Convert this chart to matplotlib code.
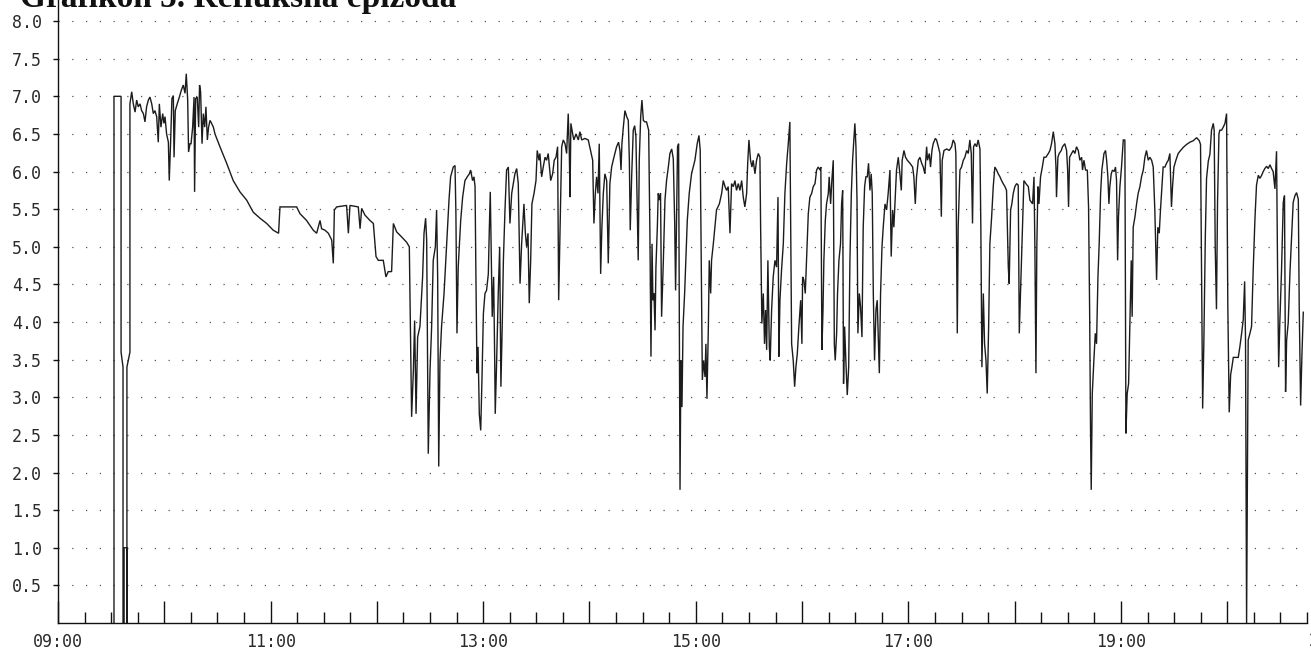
import matplotlib
matplotlib.use("Agg")
import matplotlib.pyplot as plt
import matplotlib.ticker as mticker
import numpy as np

# ---------------------------------------------------------------------------
# pH trace: minutes after 09:00 and pH
# ---------------------------------------------------------------------------

# 09:31 - 09:41  calibration / start artefact
t_start = [31.6, 31.6, 35.6, 35.6, 36.7, 36.7, 37.3, 37.3, 38.9, 38.9, 38.9, 40.6, 40.6]
ph_start = [0.0, 7.0, 7.0, 3.6, 3.4, 0.0, 0.0, 1.0, 1.0, 0.0, 3.4, 3.6, 6.9]

# 09:41 - 11:35
t_a = [41.6, 42.5, 43.5, 44.4, 45.3, 46.3, 47.2, 48.2, 49.1, 50.0, 51.0, 51.9, 52.9,
       53.8, 54.7, 55.7, 56.6, 57.2, 58.1, 59.1, 59.8, 60.4, 61.3, 62.3, 62.8, 63.6,
       64.3, 65.1, 65.5, 66.2, 67.3, 68.5, 69.6, 70.7, 71.7, 72.4, 73.2, 73.7, 74.5,
       75.1, 76.0, 76.8, 77.1, 77.7, 78.6, 79.4, 79.9, 80.5, 81.3, 82.0, 82.8, 83.5,
       84.3, 85.0, 85.8, 86.7, 87.7, 88.6, 91.4, 95.2, 98.9, 102.7, 106.5, 110.2,
       114.0, 117.8, 121.5, 124.5, 125.3, 134.7, 136.6, 140.3, 144.1, 146.0, 147.9,
       148.8, 150.7, 152.6, 154.5]
ph_a = [7.06, 6.90, 6.79, 6.95, 6.86, 6.90, 6.81, 6.77, 6.66, 6.86, 6.95, 6.99, 6.90,
        6.77, 6.81, 6.73, 6.39, 6.90, 6.59, 6.77, 6.64, 6.73, 6.50, 6.39, 5.88, 6.42,
        6.97, 7.01, 6.19, 6.81, 6.90, 6.99, 7.08, 7.15, 7.04, 7.30, 6.95, 6.26, 6.37,
        6.37, 6.59, 6.99, 5.73, 6.97, 6.99, 6.59, 7.15, 7.06, 6.37, 6.77, 6.59, 6.86,
        6.42, 6.59, 6.68, 6.64, 6.59, 6.50, 6.33, 6.11, 5.88, 5.73, 5.62, 5.46,
        5.38, 5.31, 5.22, 5.18, 5.53, 5.53, 5.44, 5.35, 5.22, 5.18, 5.35,
        5.24, 5.22, 5.18, 5.09]

# 11:35 - 13:43
t_b = [155.4, 156.0, 157.3, 162.9, 163.9, 164.8, 169.5, 170.5, 171.4, 173.3, 176.1,
       178.0, 179.5, 180.8, 183.6, 185.1, 186.4, 188.3, 189.3, 191.1, 194.0, 196.8,
       198.3, 199.6, 200.6, 201.3, 202.1, 203.0, 204.3, 205.8, 206.6, 207.5, 208.1,
       209.0, 210.0, 210.9, 211.8, 213.0, 213.7, 214.3, 214.9, 215.6, 216.5, 217.9,
       219.4, 220.7, 221.6, 223.1, 224.1, 224.6, 225.2, 225.9, 226.5, 227.3, 228.4,
       229.7, 231.0, 232.2, 232.9, 234.0, 234.8, 235.4, 235.9, 236.5, 237.1, 237.8,
       238.6, 239.3, 240.1, 241.0, 241.9, 242.9, 243.4, 244.0, 244.6, 245.1, 245.9,
       246.5, 246.8, 247.6, 248.5, 249.3, 250.0, 250.8, 251.4, 252.3, 253.2, 254.2,
       255.1, 256.1, 257.0, 257.9, 258.9, 259.8, 260.8, 261.7, 263.0, 263.8, 264.5,
       265.3, 266.0, 266.8, 267.5, 268.7, 269.8, 270.5, 271.5, 272.0, 273.0, 273.9,
       274.9, 275.8, 276.7, 278.1, 279.2, 280.1, 281.1, 282.0, 282.6]
ph_b = [4.78, 5.49, 5.53, 5.55, 5.18, 5.55, 5.53, 5.24, 5.51, 5.42, 5.35,
        5.31, 4.87, 4.82, 4.82, 4.60, 4.67, 4.67, 5.31, 5.20, 5.13, 5.06,
        5.00, 2.74, 3.36, 4.02, 2.78, 3.80, 3.94, 4.60, 5.18, 5.38, 5.09,
        2.25, 3.36, 3.94, 4.82, 5.00, 5.49, 4.60, 2.08, 3.49, 3.94, 4.38,
        5.04, 5.62, 5.93, 6.06, 6.08, 5.44, 3.85, 4.73, 5.00, 5.35, 5.66,
        5.88, 5.93, 5.97, 6.02, 5.88, 5.93, 5.80, 4.60, 3.32, 3.67, 2.78,
        2.56, 3.23, 4.11, 4.38, 4.42, 4.64, 5.18, 5.73, 4.82, 4.07, 4.60,
        3.49, 2.78, 3.49, 4.38, 5.00, 3.14, 4.02, 4.82, 5.49, 6.02, 6.06,
        5.31, 5.71, 5.84, 5.97, 6.04, 5.84, 4.51, 5.04, 5.57, 5.18, 5.00,
        5.18, 4.25, 4.82, 5.57, 5.71, 5.88, 6.28, 6.15, 6.24, 5.93, 6.06,
        6.19, 6.15, 6.24, 5.88, 5.97, 6.15, 6.19, 6.33, 4.29]

# 13:44 - 15:53
t_c = [284.3, 285.2, 286.2, 287.1, 288.0, 288.6, 289.0, 289.5, 290.5, 291.2, 292.4,
       293.7, 294.6, 295.6, 297.4, 299.3, 300.6, 301.8, 302.5, 303.3, 304.0, 304.8,
       305.5, 306.3, 307.0, 307.8, 308.7, 309.7, 310.6, 311.5, 312.5, 313.8, 315.3,
       316.4, 317.2, 317.8, 318.3, 319.1, 320.0, 321.0, 321.9, 322.5, 323.0, 323.8,
       324.7, 325.5, 326.2, 326.8, 327.5, 328.1, 328.9, 329.6, 330.4, 331.3, 332.2,
       333.4, 334.1, 334.7, 335.3, 335.8, 336.4, 337.0, 337.5, 338.3, 338.8, 339.4,
       340.1, 340.7, 341.7, 342.6, 343.5, 344.5, 345.4, 346.4, 347.3, 348.1, 348.6,
       349.2, 349.7, 350.3, 351.1, 351.6, 352.2, 352.8, 353.7, 354.4, 355.2, 356.3,
       357.6, 359.5, 360.8, 361.8, 362.5, 363.1, 363.7, 364.4, 365.2, 365.7, 366.3,
       367.1, 367.6, 368.4, 368.9, 369.9, 370.8, 371.7, 373.3, 374.6, 375.5, 376.5,
       377.4, 378.3, 379.3, 380.2, 381.2, 382.1, 383.0, 384.0, 384.9, 385.9, 386.8,
       387.7, 388.7, 389.3, 390.0, 390.9, 391.7, 392.4, 393.4, 394.3, 395.3, 396.2,
       396.6, 397.3, 398.1, 398.8, 399.4, 400.0, 400.7, 401.5, 402.0, 402.8, 403.7,
       404.7, 405.6, 406.4, 406.9, 407.5, 408.4, 409.4, 410.3, 411.3, 412.2, 413.1]
ph_c = [6.33, 6.42, 6.37, 6.24, 6.77, 6.28, 5.66, 6.64, 6.50, 6.42, 6.50,
        6.42, 6.53, 6.42, 6.44, 6.42, 6.28, 6.15, 5.31, 5.71, 5.93, 5.71,
        6.37, 4.64, 5.26, 5.71, 5.97, 5.88, 4.78, 5.84, 6.06, 6.19, 6.33,
        6.39, 6.28, 6.02, 6.37, 6.59, 6.81, 6.73, 6.68, 6.15, 5.22, 5.93,
        6.55, 6.61, 6.46, 5.71, 4.82, 6.15, 6.73, 6.95, 6.68, 6.66, 6.66,
        6.55, 5.18, 3.54, 5.04, 4.29, 4.38, 3.89, 4.73, 5.26, 5.71, 5.62,
        5.71, 4.07, 4.82, 5.62, 5.88, 6.06, 6.24, 6.30, 6.17, 5.31, 4.42,
        5.49, 6.33, 6.37, 1.77, 3.49, 2.87, 3.94, 4.38, 4.82, 5.35, 5.71,
        5.97, 6.15, 6.37, 6.48, 6.28, 4.73, 3.23, 3.49, 3.27, 3.71, 2.98,
        3.94, 4.82, 4.38, 4.82, 5.04, 5.26, 5.49, 5.57, 5.71, 5.88, 5.80,
        5.75, 5.80, 5.18, 5.84, 5.80, 5.88, 5.75, 5.84, 5.75, 5.88, 5.66,
        5.53, 5.71, 6.11, 6.42, 6.15, 6.06, 6.15, 5.97, 6.15, 6.24, 6.19,
        5.26, 3.98, 4.38, 3.71, 4.16, 3.63, 4.82, 3.67, 3.49, 4.16, 4.60,
        4.82, 4.73, 5.66, 3.54, 4.29, 4.69, 5.04, 5.71, 6.11, 6.37, 6.66]

# 15:54 - 18:03
t_d = [414.1, 415.0, 415.8, 416.5, 417.3, 418.2, 419.2, 419.9, 420.3, 421.0, 421.8,
       422.5, 423.5, 424.4, 425.4, 426.3, 427.3, 428.2, 429.1, 430.1, 430.6, 431.2,
       431.8, 432.3, 433.1, 433.8, 434.8, 435.3, 436.1, 436.8, 437.6, 438.2, 438.7,
       439.5, 440.0, 440.8, 441.7, 442.3, 442.9, 443.4, 444.0, 444.7, 445.5, 446.3,
       447.0, 447.8, 448.5, 449.3, 449.8, 450.4, 451.0, 451.5, 452.3, 453.0, 453.8,
       454.5, 455.3, 456.0, 456.8, 457.5, 458.3, 459.0, 459.6, 460.2, 460.9, 461.7,
       462.4, 463.0, 463.6, 464.3, 465.1, 465.8, 466.8, 467.7, 468.6, 469.6, 470.3,
       471.1, 471.8, 472.6, 473.3, 474.3, 475.2, 476.0, 476.5, 477.5, 478.4, 479.4,
       480.9, 482.4, 483.1, 483.9, 484.6, 485.6, 486.5, 487.5, 488.4, 489.3, 490.3,
       490.8, 491.8, 492.5, 493.3, 494.0, 495.2, 495.9, 496.9, 497.8, 498.6, 499.1,
       500.1, 501.6, 503.1, 504.4, 505.3, 506.3, 506.8, 507.6, 508.1, 509.1, 510.0,
       511.0, 511.9, 512.9, 513.8, 514.7, 515.5, 516.2, 516.8, 517.6, 518.5, 519.4,
       520.4, 520.9, 521.5, 522.3, 523.0, 523.8, 524.5, 525.3, 526.0, 527.0, 527.9,
       528.8, 529.8, 530.7, 531.7, 532.6, 533.5, 534.5, 535.4, 536.4, 536.9, 537.7,
       538.4, 539.2, 540.1, 541.1, 542.0, 542.6]
ph_d = [3.71, 3.49, 3.14, 3.40, 3.58, 3.94, 4.29, 3.71, 4.60, 4.56, 4.38,
        4.82, 5.44, 5.66, 5.71, 5.80, 5.84, 6.02, 6.06, 6.02, 6.06, 3.63,
        4.16, 4.82, 5.35, 5.57, 5.71, 5.93, 5.57, 5.88, 6.15, 3.71, 3.49,
        3.85, 4.38, 4.82, 5.04, 5.57, 5.75, 3.18, 3.94, 3.49, 3.03, 3.40,
        4.82, 5.71, 6.15, 6.46, 6.64, 6.33, 5.62, 3.85, 4.38, 4.20, 3.80,
        5.26, 5.80, 5.93, 5.93, 6.11, 5.75, 5.97, 5.71, 4.38, 3.49, 4.16,
        4.29, 3.80, 3.32, 4.38, 5.00, 5.26, 5.57, 5.49, 5.71, 6.02, 4.87,
        5.49, 5.26, 5.66, 6.02, 6.19, 5.97, 5.75, 6.15, 6.28, 6.19, 6.15,
        6.11, 6.06, 5.93, 5.57, 5.93, 6.15, 6.19, 6.11, 6.06, 5.97, 6.33,
        6.15, 6.24, 6.06, 6.28, 6.37, 6.44, 6.42, 6.33, 6.24, 5.40, 6.15,
        6.28, 6.30, 6.28, 6.33, 6.42, 6.37, 6.24, 3.85, 5.26, 6.02, 6.06,
        6.15, 6.19, 6.28, 6.24, 6.42, 6.24, 5.31, 6.33, 6.37, 6.33, 6.42,
        6.30, 5.26, 3.40, 4.38, 3.71, 3.49, 3.05, 3.94, 5.04, 5.40, 5.80,
        6.06, 6.02, 5.97, 5.93, 5.88, 5.84, 5.80, 5.75, 4.73, 4.51, 5.49,
        5.57, 5.71, 5.80, 5.84, 5.82, 3.85]

# 18:04 - 19:33
t_e = [544.5, 545.2, 546.3, 547.7, 548.6, 550.1, 550.9, 551.4, 552.0, 552.5, 553.1,
       553.7, 554.6, 555.6, 556.5, 557.6, 559.0, 559.9, 560.8, 561.8, 562.7, 563.3,
       563.6, 564.4, 565.1, 566.3, 567.0, 568.3, 569.3, 569.9, 570.4, 571.0, 572.1,
       573.1, 574.0, 574.9, 575.9, 576.8, 577.8, 578.3, 579.1, 580.0, 581.0, 581.7,
       582.3, 582.8, 583.2, 583.8, 584.7, 585.5, 586.2, 587.0, 587.7, 588.5, 589.2,
       590.4, 591.3, 591.9, 592.6, 593.2, 593.7, 594.5, 595.2, 596.2, 596.9, 597.5,
       598.1, 598.6, 599.4, 600.3, 601.3, 602.2, 602.8, 603.5, 604.3, 605.0, 605.8,
       606.3, 606.9, 607.9, 608.8, 609.7, 610.7, 611.6, 612.6, 613.5, 614.4, 615.4,
       616.3, 617.3, 618.2, 619.1, 620.1, 620.8, 621.6, 622.3, 623.1, 623.8, 624.8,
       625.7, 626.7, 627.6, 628.5, 629.1, 629.9, 631.0, 632.3]
ph_e = [5.35, 5.88, 5.84, 5.80, 5.62, 5.57, 5.93, 5.00, 3.32, 5.00, 5.80,
        5.57, 5.93, 6.06, 6.19, 6.19, 6.24, 6.28, 6.37, 6.53, 6.37, 6.06,
        5.66, 6.19, 6.24, 6.28, 6.33, 6.37, 6.28, 6.02, 5.53, 6.19, 6.24,
        6.28, 6.24, 6.33, 6.28, 6.15, 6.19, 6.02, 6.15, 6.02, 6.02, 5.53,
        4.16, 2.61, 1.77, 3.05, 3.49, 3.85, 3.71, 4.60, 5.04, 5.71, 6.02,
        6.24, 6.28, 6.15, 5.93, 5.57, 5.80, 5.97, 6.02, 6.00, 6.06, 5.88,
        4.82, 5.40, 5.80, 6.06, 6.42, 6.42, 2.52, 3.05, 3.18, 3.94, 4.82,
        4.07, 5.26, 5.40, 5.57, 5.71, 5.80, 5.93, 6.02, 6.19, 6.28, 6.15,
        6.19, 6.15, 6.06, 5.49, 4.56, 5.26, 5.18, 5.49, 5.80, 6.06, 6.06,
        6.11, 6.15, 6.24, 5.53, 5.80, 6.06, 6.15, 6.24]

# 19:33 - 20:43
t_f = [633.3, 635.1, 637.0, 638.9, 640.8, 642.7, 644.2, 644.9, 645.5, 646.1, 646.8,
       647.6, 648.3, 649.3, 650.2, 651.1, 652.1, 652.6, 653.2, 653.9, 654.5, 655.3,
       655.8, 656.8, 657.7, 658.7, 659.6, 660.3, 661.1, 661.9, 662.6, 663.4, 666.2,
       667.1, 668.1, 669.0, 669.8, 670.3, 670.9, 671.8, 672.8, 673.7, 674.6, 675.6,
       676.5, 677.5, 678.4, 679.4, 680.3, 681.2, 682.2, 683.1, 684.1, 685.0, 685.9,
       686.9, 687.8, 688.4, 689.0, 689.7, 690.6, 691.6, 692.3, 692.9, 693.5, 694.4,
       695.4, 696.3, 697.2, 698.2, 699.1, 700.1, 700.6, 701.4, 702.1, 702.9]
ph_f = [6.27, 6.32, 6.36, 6.39, 6.41, 6.45, 6.41, 6.36, 4.67, 2.85, 3.76,
        5.13, 5.91, 6.14, 6.23, 6.55, 6.64, 6.55, 4.99, 4.17, 5.59, 6.50,
        6.55, 6.55, 6.59, 6.64, 6.77, 4.22, 2.80, 3.30, 3.40, 3.53, 3.53,
        3.67, 3.85, 4.03, 4.54, 3.76, 0.0, 3.76, 3.85, 3.94, 4.67, 5.36,
        5.82, 5.95, 5.91, 5.95, 6.00, 6.04, 6.07, 6.04, 6.09, 6.04, 6.00,
        5.77, 6.27, 4.67, 3.40, 4.03, 4.67, 5.59, 5.68, 3.07, 3.76, 3.99,
        4.67, 5.13, 5.59, 5.68, 5.72, 5.63, 4.22, 2.89, 3.53, 4.13]

minutes = t_start + t_a + t_b + t_c + t_d + t_e + t_f
ph = ph_start + ph_a + ph_b + ph_c + ph_d + ph_e + ph_f

x_end = 705          # axis runs 09:00 - ~20:45
y_top = 8.28
y_ticks = [0.5, 1.0, 1.5, 2.0, 2.5, 3.0, 3.5, 4.0, 4.5, 5.0, 5.5, 6.0, 6.5, 7.0, 7.5, 8.0]

# ---------------------------------------------------------------------------
# Chart
# ---------------------------------------------------------------------------

W, H = 1311, 653
fig = plt.figure(figsize=(W / 100, H / 100), dpi=100)
fig.patch.set_facecolor("white")
ax = fig.add_axes([58 / W, 1 - 623 / H, (1307 - 58) / W, 623 / H])

ax.plot(minutes, ph, color="#1c1c1c", linewidth=1.0, solid_joinstyle="miter")

ax.set_xlim(0, x_end)
ax.set_ylim(0, y_top)

for side in ("top", "right"):
    ax.spines[side].set_visible(False)
for side in ("left", "bottom"):
    ax.spines[side].set_color("#111111")
    ax.spines[side].set_linewidth(1.0)

mono = "DejaVu Sans Mono"

# y axis
ax.yaxis.set_major_locator(mticker.FixedLocator(y_ticks))
ax.yaxis.set_major_formatter(mticker.FormatStrFormatter("%.1f"))
ax.tick_params(axis="y", direction="out", length=3.5, width=1.0, pad=8,
               labelsize=12, labelcolor="#2a2a2a", color="#111111")
ax.yaxis.grid(True, linestyle=(0, (1, 10)), color="#555555", linewidth=0.9)
ax.xaxis.grid(False)

# x axis: hourly major ticks, 15 min minor ticks, label every 2 hours
def fmt_time(m, pos):
    m = int(round(m))
    if (m // 60) % 2:
        return ""
    return f"{9 + m // 60:02d}:{m % 60:02d}"

ax.xaxis.set_major_locator(mticker.MultipleLocator(60))
ax.xaxis.set_minor_locator(mticker.MultipleLocator(15))
ax.xaxis.set_major_formatter(mticker.FuncFormatter(fmt_time))
ax.tick_params(axis="x", which="major", direction="in", length=16, width=1.0,
               pad=7, labelsize=12, labelcolor="#2a2a2a", color="#111111")
ax.tick_params(axis="x", which="minor", direction="in", length=8, width=1.0,
               color="#111111")

for lab in ax.get_xticklabels() + ax.get_yticklabels():
    lab.set_fontfamily(mono)

# 21:00 label falls just past the right edge of the axis (cut by the page)
ax.text(720, -9 / 623, "21:00", transform=ax.get_xaxis_transform(),
        ha="center", va="top", fontsize=12, family=mono, color="#2a2a2a",
        clip_on=False)

fig.text(20 / W, 1 - 7 / H, "Grafikon 5. Refluksna epizoda",
         family="Liberation Serif", weight="bold", fontsize=24,
         va="baseline", ha="left", color="#111111")

fig.savefig("out.png", dpi=100, facecolor="white")
